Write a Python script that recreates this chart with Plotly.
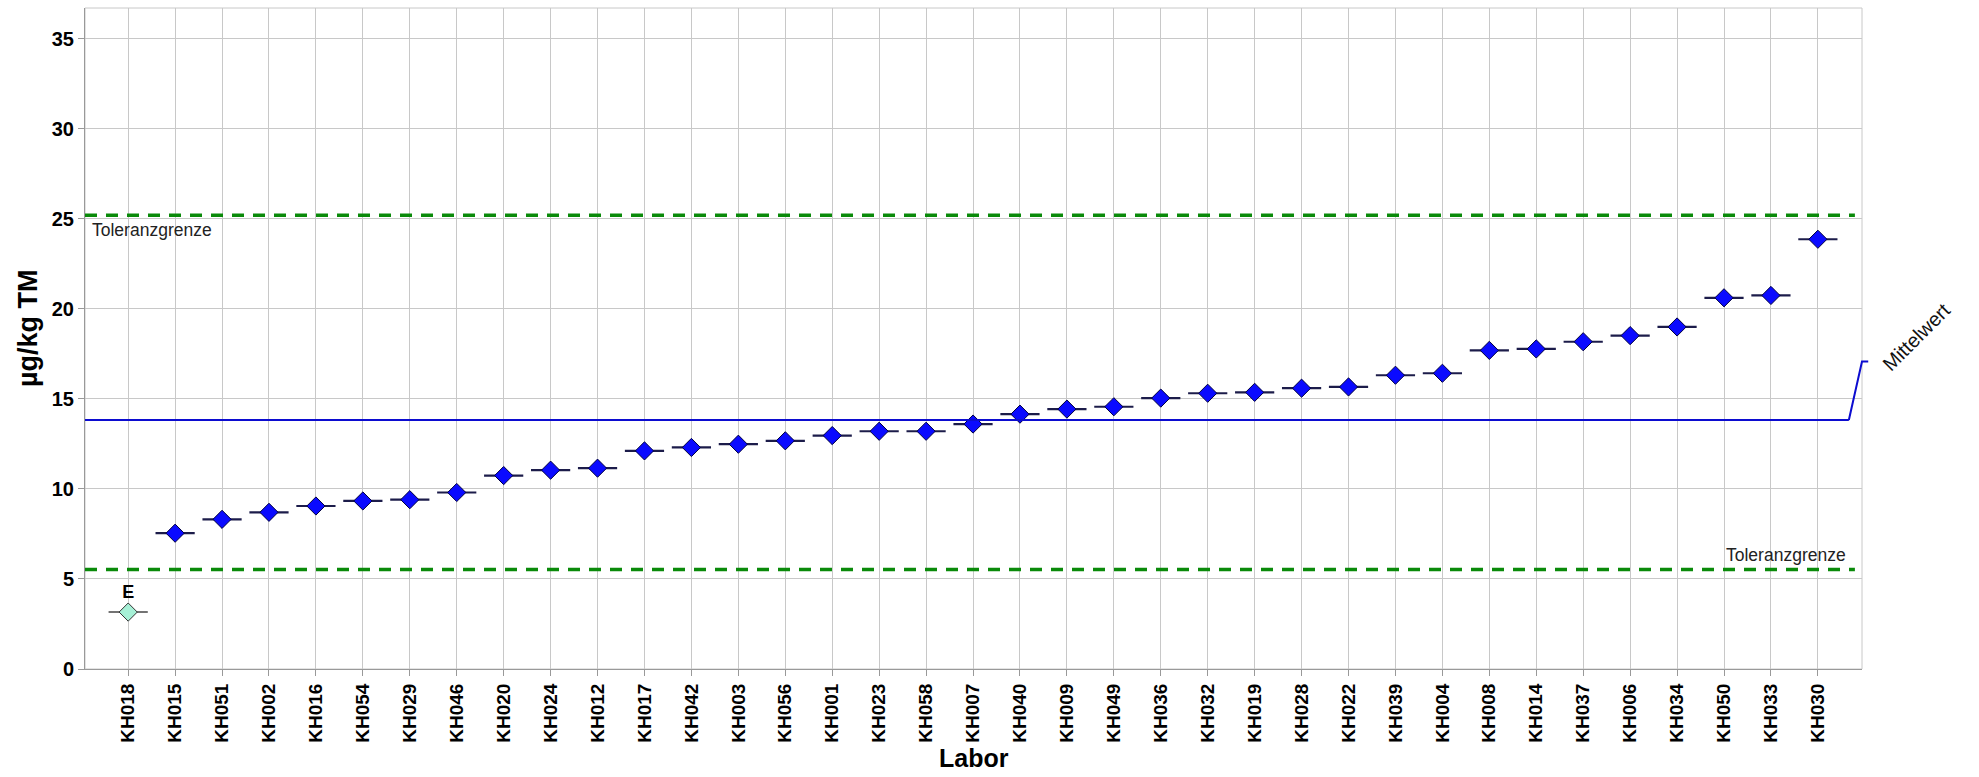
import plotly.graph_objects as go

# ---- data ----
labs = ["KH018", "KH015", "KH051", "KH002", "KH016", "KH054", "KH029", "KH046",
        "KH020", "KH024", "KH012", "KH017", "KH042", "KH003", "KH056", "KH001",
        "KH023", "KH058", "KH007", "KH040", "KH009", "KH049", "KH036", "KH032",
        "KH019", "KH028", "KH022", "KH039", "KH004", "KH008", "KH014", "KH037",
        "KH006", "KH034", "KH050", "KH033", "KH030"]
values = [3.16, 7.54, 8.31, 8.70, 9.05, 9.33, 9.40, 9.80,
          10.74, 11.04, 11.15, 12.11, 12.30, 12.48, 12.67, 12.96,
          13.20, 13.20, 13.60, 14.15, 14.43, 14.56, 15.04, 15.31,
          15.36, 15.59, 15.66, 16.31, 16.42, 17.69, 17.77, 18.17,
          18.51, 18.99, 20.61, 20.74, 23.86]
outlier_labs = ["KH018"]
outlier_text = "E"
mean_value = 13.82
tol_upper = 25.2
tol_lower = 5.52
y_ticks = [0, 5, 10, 15, 20, 25, 30, 35]

x_range = [-0.92, 36.94]
y_range = [0, 36.7]

FONT = "Liberation Sans, Arial, sans-serif"

norm_x = [l for l in labs if l not in outlier_labs]
norm_y = [v for l, v in zip(labs, values) if l not in outlier_labs]
out_x = [l for l in labs if l in outlier_labs]
out_y = [v for l, v in zip(labs, values) if l in outlier_labs]

fig = go.Figure()
# horizontal bars through markers
fig.add_trace(go.Scatter(x=norm_x, y=norm_y, mode="markers", hoverinfo="skip",
                         marker=dict(symbol="line-ew", size=28,
                                     line=dict(width=2.2, color="#1c1c4a")),
                         showlegend=False))
fig.add_trace(go.Scatter(x=out_x, y=out_y, mode="markers", hoverinfo="skip",
                         marker=dict(symbol="line-ew", size=28,
                                     line=dict(width=1.5, color="#444444")),
                         showlegend=False))
# diamonds
fig.add_trace(go.Scatter(x=norm_x, y=norm_y, mode="markers",
                         marker=dict(symbol="diamond", size=14, color="#0a0aff",
                                     line=dict(width=1, color="#000040")),
                         showlegend=False))
fig.add_trace(go.Scatter(x=out_x, y=out_y, mode="markers+text",
                         text=["<b>" + outlier_text + "</b>"] * len(out_x),
                         textposition="top center",
                         textfont=dict(family=FONT, size=18, color="#000000"),
                         marker=dict(symbol="diamond", size=14, color="#a6f0d6",
                                     line=dict(width=1, color="#333333")),
                         showlegend=False))

def yp(v):
    return (v - y_range[0]) / (y_range[1] - y_range[0])

def xp(i):
    return (i - x_range[0]) / (x_range[1] - x_range[0])

shapes = []
# plot border (top/right)
shapes.append(dict(type="rect", xref="paper", yref="paper", x0=0, x1=1, y0=0, y1=1,
                   line=dict(color="#c8c8c8", width=1), layer="below"))
# tolerance lines
for t in (tol_upper, tol_lower):
    shapes.append(dict(type="line", xref="paper", yref="y", x0=0, x1=0.996, y0=t, y1=t,
                       line=dict(color="#0a8a0a", width=3.5, dash="12px,9px")))
# mean line with leader
mean_end = xp(len(labs) - 1 + 0.66)
shapes.append(dict(type="line", xref="paper", yref="paper", x0=0, x1=mean_end,
                   y0=yp(mean_value), y1=yp(mean_value),
                   line=dict(color="#0c0cd0", width=2)))
shapes.append(dict(type="path", xref="paper", yref="paper",
                   path=f"M {mean_end} {yp(mean_value)} L 1.0 {yp(mean_value + 3.25)} L 1.0035 {yp(mean_value + 3.25)}",
                   line=dict(color="#0c0cd0", width=2)))

annotations = [
    dict(text="Toleranzgrenze", xref="paper", yref="y", x=0.003, y=tol_upper,
         xanchor="left", yanchor="top", yshift=-3, showarrow=False,
         font=dict(family=FONT, size=17.5, color="#222222")),
    dict(text="Toleranzgrenze", xref="paper", yref="y", x=0.992, y=tol_lower,
         xanchor="right", yanchor="bottom", yshift=3, showarrow=False,
         font=dict(family=FONT, size=17.5, color="#222222")),
    dict(text="Mittelwert", xref="paper", yref="paper", x=1.0305, y=0.503,
         xanchor="center", yanchor="middle",
         textangle=-45, showarrow=False,
         font=dict(family=FONT, size=20, color="#111111")),
    dict(text="<b>µg/kg TM</b>", xref="paper", yref="paper", x=-0.032, y=0.516,
         xanchor="center", yanchor="middle", textangle=-90, showarrow=False,
         font=dict(family=FONT, size=27, color="#000000")),
    dict(text="<b>Labor</b>", xref="paper", yref="paper", x=0.5, y=-0.134,
         xanchor="center", yanchor="middle", showarrow=False,
         font=dict(family=FONT, size=25, color="#000000")),
]

fig.update_layout(
    width=1979, height=777,
    margin=dict(l=85, r=117, t=8, b=108),
    paper_bgcolor="white", plot_bgcolor="white",
    font=dict(family=FONT, color="#000000"),
    shapes=shapes, annotations=annotations,
    xaxis=dict(type="category", categoryorder="array", categoryarray=labs,
               range=x_range, showgrid=True, gridcolor="#c8c8c8", gridwidth=1,
               showline=True, linecolor="#999999", linewidth=1,
               ticks="outside", ticklen=6, tickcolor="#999999",
               tickangle=-90, tickfont=dict(family=FONT, size=19, color="#000000", weight="bold"),
               automargin=False, zeroline=False),
    yaxis=dict(range=y_range, tickvals=y_ticks, showgrid=True, gridcolor="#c8c8c8",
               gridwidth=1, showline=True, linecolor="#999999", linewidth=1,
               ticks="outside", ticklen=6, tickcolor="#999999",
               tickfont=dict(family=FONT, size=20, color="#000000", weight="bold"),
               automargin=False, zeroline=False),
)

fig.write_html("out.html")
